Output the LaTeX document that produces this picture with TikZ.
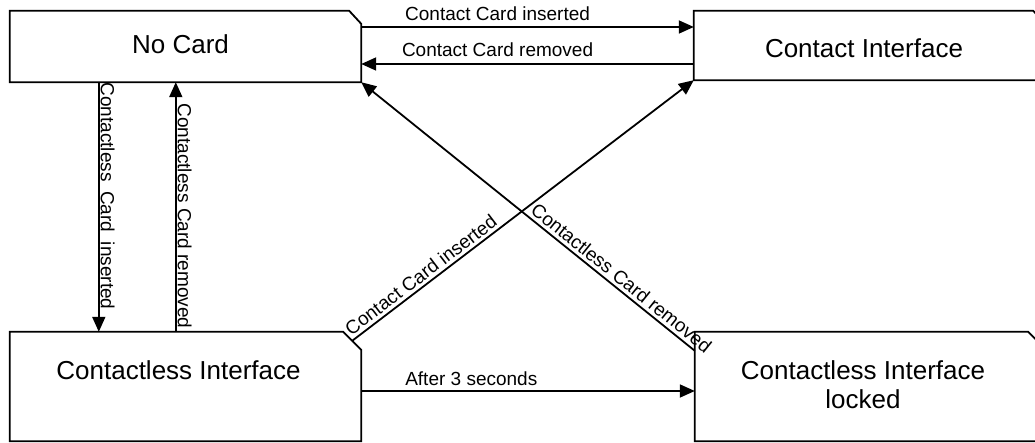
\documentclass[tikz,border=0pt]{standalone}
\usepackage{fontspec}
\setmainfont{Liberation Sans}
\usetikzlibrary{arrows.meta,calc}
\begin{document}
\begin{tikzpicture}[x=1pt,y=-1pt,
  state/.style={rectangle, minimum width=351pt, inner sep=0pt},
  outline/.style={line width=1.8pt, line join=miter},
  statetext/.style={font=\fontsize{26}{29}\selectfont, align=center, inner sep=0pt},
  trans/.style={line width=1.8pt, -{Triangle[length=15pt,width=13pt]}},
  transback/.style={line width=1.8pt, {Triangle[length=15pt,width=13pt]}-},
  lbl/.style={font=\fontsize{19}{22}\selectfont, inner sep=1pt},
]
\useasboundingbox (0,0) rectangle (1035,443);

% state boxes (frames are drawn separately because of the cut corner)
\node[state, minimum height=71pt]  (nocard)  at (185.5,46.5)  {};
\node[state, minimum height=69pt]  (contact) at (869.5,45.5)  {};
\node[state, minimum height=109pt] (cless)   at (185.5,386.5) {};
\node[state, minimum height=109pt] (locked)  at (870.5,386.5) {};

\draw[outline] (nocard.north west) -- ([xshift=-12pt]nocard.north east)
  -- ([yshift=-13pt]nocard.north east) -- (nocard.south east) -- (nocard.south west) -- cycle;
\draw[outline] (contact.north west) -- ([xshift=-12pt]contact.north east)
  -- ([yshift=-13pt]contact.north east) -- (contact.south east) -- (contact.south west) -- cycle;
\draw[outline] (cless.north west) -- ([xshift=-18pt]cless.north east)
  -- ([yshift=-18pt]cless.north east) -- (cless.south east) -- (cless.south west) -- cycle;
\draw[outline] (locked.north west) -- ([xshift=-18pt]locked.north east)
  -- ([yshift=-18pt]locked.north east) -- (locked.south east) -- (locked.south west) -- cycle;

% state names
\node[statetext] (nocardtext)  at (180.5,44)  {No Card};
\node[statetext] (contacttext) at (864,48)    {Contact Interface};
\node[statetext] (clesstext)   at (178.5,370) {Contactless Interface};
\node[statetext] (lockedtext)  at (863,385)   {Contactless Interface\\locked};

% transitions between No Card and Contact Interface
\draw[trans] ([yshift=19.5pt]nocard.east) -- node[lbl, above=4pt, pos=0.41] {Contact Card inserted}
  ([yshift=18.5pt]contact.west);
\draw[trans] ([yshift=-18.5pt]contact.west) -- node[lbl, above=5pt, pos=0.59] {Contact Card removed}
  ([yshift=-17.5pt]nocard.east);

% transitions between No Card and Contactless Interface
\draw[trans] ([xshift=89pt]nocard.south west) --
  node[lbl, rotate=-90, anchor=south, pos=0.456] {Contactless\enspace Card\enspace inserted}
  ([xshift=89pt]cless.north west);
\draw[trans] ([xshift=166pt]cless.north west) --
  node[lbl, rotate=-90, anchor=south, pos=0.464] {Contactless Card removed}
  ([xshift=166pt]nocard.south west);

% crossing diagonals
\draw[trans] ([xshift=-9pt,yshift=-9pt]cless.north east) --
  node[lbl, sloped, above=2pt, pos=0.22] {Contact Card inserted}
  (contact.south west);
\draw[transback] (nocard.south east) --
  node[lbl, sloped, above=2pt, pos=0.76] {Contactless Card removed}
  ([yshift=-19pt]locked.north west);

% timeout
\draw[trans] ([yshift=-4.5pt]cless.east) -- node[lbl, above=3pt, pos=0.33] {After 3 seconds}
  ([yshift=-4.5pt]locked.west);
\end{tikzpicture}
\end{document}
